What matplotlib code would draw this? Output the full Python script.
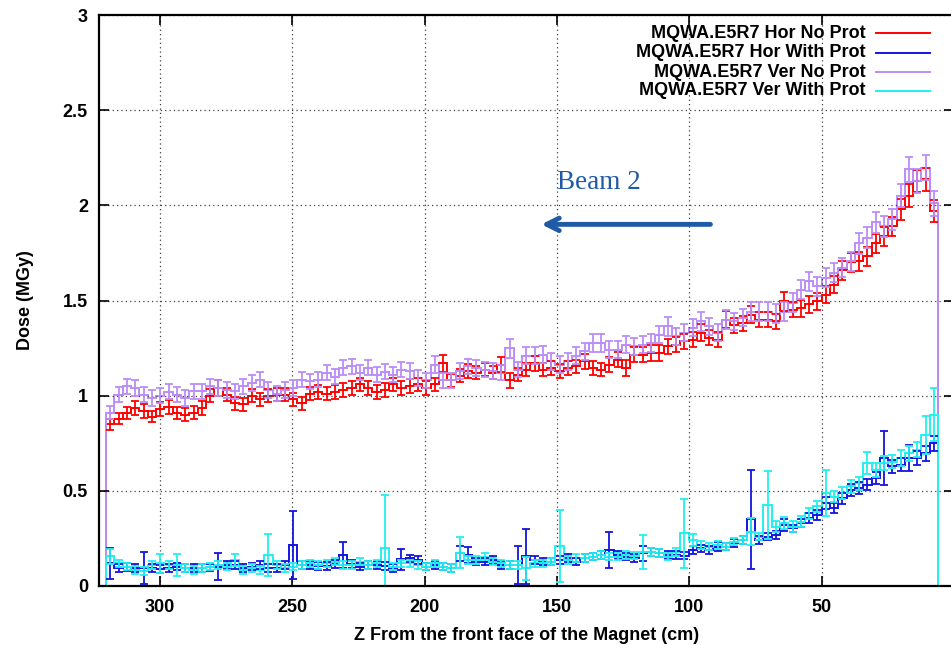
import numpy as np
import matplotlib
matplotlib.use('Agg')
import matplotlib.pyplot as plt

plt.rcParams['font.family'] = ['Liberation Sans', 'DejaVu Sans']
plt.rcParams['font.weight'] = 'bold'

# bins along Z (cm), first bin at the far end of the magnet
z_start, z_stop, n_bins = 320.4, 6.0, 100

labels = ['MQWA.E5R7 Hor No Prot', 'MQWA.E5R7 Hor With Prot',
          'MQWA.E5R7 Ver No Prot', 'MQWA.E5R7 Ver With Prot']
colors = ['#ff0000', '#1414e0', '#bb8df7', '#22f0f0']

hor_no = [0.85, 0.88, 0.91, 0.935, 0.92, 0.89, 0.93, 0.94, 0.91, 0.90,
          0.91, 0.935, 1.00, 1.04, 1.005, 0.96, 0.955, 1.00, 0.98, 1.00,
          1.005, 1.005, 0.98, 0.96, 1.01, 1.02, 1.01, 1.02, 1.03, 1.04,
          1.06, 1.04, 1.02, 1.03, 1.06, 1.04, 1.05, 1.06, 1.04, 1.06,
          1.17, 1.08, 1.105, 1.13, 1.12, 1.137, 1.12, 1.163, 1.08, 1.11,
          1.137, 1.17, 1.137, 1.145, 1.13, 1.145, 1.155, 1.18, 1.145, 1.137,
          1.163, 1.19, 1.145, 1.215, 1.215, 1.224, 1.224, 1.26, 1.268, 1.286,
          1.295, 1.33, 1.305, 1.295, 1.40, 1.37, 1.38, 1.426, 1.40, 1.40,
          1.39, 1.496, 1.452, 1.46, 1.479, 1.496, 1.53, 1.583, 1.66, 1.70,
          1.707, 1.733, 1.80, 1.838, 1.891, 1.979, 2.05, 2.128, 2.137, 1.97]
hor_no_err = [0.03, 0.03, 0.03, 0.035, 0.035, 0.03, 0.035, 0.035, 0.03, 0.035,
              0.035, 0.035, 0.035, 0.04, 0.035, 0.035, 0.035, 0.035, 0.035, 0.035,
              0.035, 0.035, 0.035, 0.035, 0.035, 0.035, 0.035, 0.035, 0.035, 0.035,
              0.035, 0.035, 0.035, 0.035, 0.035, 0.035, 0.035, 0.035, 0.035, 0.035,
              0.045, 0.035, 0.035, 0.035, 0.035, 0.035, 0.035, 0.04, 0.04, 0.035,
              0.035, 0.04, 0.035, 0.035, 0.035, 0.035, 0.035, 0.04, 0.035, 0.035,
              0.04, 0.04, 0.04, 0.04, 0.04, 0.04, 0.04, 0.04, 0.04, 0.04,
              0.04, 0.045, 0.04, 0.04, 0.045, 0.04, 0.04, 0.045, 0.04, 0.04,
              0.04, 0.05, 0.04, 0.045, 0.045, 0.045, 0.045, 0.045, 0.05, 0.05,
              0.05, 0.05, 0.05, 0.05, 0.05, 0.055, 0.06, 0.06, 0.06, 0.06]

hor_with = [0.119, 0.093, 0.10, 0.093, 0.093, 0.093, 0.088, 0.093, 0.102, 0.093,
            0.093, 0.093, 0.098, 0.102, 0.11, 0.11, 0.093, 0.102, 0.11, 0.093,
            0.093, 0.11, 0.216, 0.11, 0.11, 0.105, 0.105, 0.115, 0.163, 0.115,
            0.102, 0.11, 0.11, 0.105, 0.093, 0.14, 0.145, 0.137, 0.102, 0.11,
            0.102, 0.093, 0.172, 0.163, 0.128, 0.128, 0.137, 0.11, 0.11, 0.11,
            0.155, 0.137, 0.128, 0.128, 0.137, 0.146, 0.128, 0.146, 0.154, 0.163,
            0.189, 0.163, 0.154, 0.146, 0.172, 0.18, 0.172, 0.163, 0.163, 0.16,
            0.189, 0.198, 0.19, 0.207, 0.207, 0.225, 0.242, 0.35, 0.242, 0.26,
            0.268, 0.32, 0.303, 0.33, 0.356, 0.373, 0.435, 0.409, 0.46, 0.505,
            0.514, 0.532, 0.567, 0.672, 0.628, 0.637, 0.672, 0.672, 0.698, 0.75]
hor_with_err = [0.08, 0.02, 0.02, 0.02, 0.085, 0.02, 0.02, 0.02, 0.02, 0.02,
                0.02, 0.02, 0.02, 0.07, 0.02, 0.02, 0.02, 0.02, 0.02, 0.02,
                0.02, 0.02, 0.18, 0.02, 0.02, 0.02, 0.02, 0.02, 0.07, 0.02,
                0.02, 0.02, 0.02, 0.02, 0.02, 0.055, 0.02, 0.02, 0.02, 0.02,
                0.02, 0.02, 0.04, 0.04, 0.02, 0.02, 0.02, 0.02, 0.02, 0.1,
                0.145, 0.02, 0.02, 0.02, 0.02, 0.02, 0.02, 0.02, 0.02, 0.02,
                0.095, 0.02, 0.02, 0.02, 0.04, 0.02, 0.02, 0.02, 0.02, 0.02,
                0.02, 0.02, 0.02, 0.025, 0.02, 0.02, 0.02, 0.26, 0.02, 0.02,
                0.02, 0.03, 0.02, 0.02, 0.025, 0.025, 0.03, 0.025, 0.03, 0.03,
                0.03, 0.03, 0.03, 0.14, 0.035, 0.035, 0.07, 0.035, 0.04, 0.04]

ver_no = [0.91, 1.005, 1.05, 1.04, 1.005, 0.988, 1.00, 1.02, 1.005, 0.988,
          1.023, 1.023, 1.05, 1.04, 1.03, 1.023, 1.05, 1.067, 1.084, 1.03,
          1.01, 1.03, 1.04, 1.084, 1.075, 1.084, 1.12, 1.10, 1.146, 1.154,
          1.12, 1.146, 1.11, 1.125, 1.11, 1.137, 1.13, 1.093, 1.08, 1.163,
          1.08, 1.08, 1.13, 1.155, 1.145, 1.137, 1.13, 1.12, 1.25, 1.137,
          1.21, 1.21, 1.215, 1.18, 1.163, 1.18, 1.21, 1.233, 1.277, 1.277,
          1.242, 1.242, 1.268, 1.26, 1.268, 1.277, 1.32, 1.365, 1.312, 1.33,
          1.356, 1.391, 1.365, 1.33, 1.40, 1.39, 1.41, 1.44, 1.44, 1.44,
          1.43, 1.44, 1.487, 1.557, 1.60, 1.575, 1.62, 1.645, 1.672, 1.707,
          1.80, 1.83, 1.91, 1.89, 1.926, 2.05, 2.19, 2.128, 2.198, 2.01]
ver_no_err = [0.035, 0.04, 0.04, 0.04, 0.04, 0.04, 0.04, 0.04, 0.04, 0.04,
              0.04, 0.04, 0.04, 0.04, 0.04, 0.04, 0.04, 0.04, 0.04, 0.04,
              0.04, 0.04, 0.04, 0.04, 0.04, 0.04, 0.04, 0.04, 0.04, 0.04,
              0.04, 0.04, 0.04, 0.04, 0.04, 0.04, 0.04, 0.04, 0.04, 0.045,
              0.04, 0.04, 0.04, 0.04, 0.04, 0.04, 0.04, 0.04, 0.05, 0.04,
              0.045, 0.045, 0.045, 0.045, 0.045, 0.045, 0.045, 0.045, 0.045, 0.045,
              0.045, 0.045, 0.045, 0.045, 0.045, 0.045, 0.045, 0.05, 0.045, 0.045,
              0.045, 0.05, 0.045, 0.045, 0.05, 0.045, 0.045, 0.05, 0.05, 0.05,
              0.05, 0.05, 0.05, 0.05, 0.05, 0.05, 0.05, 0.05, 0.05, 0.05,
              0.055, 0.055, 0.055, 0.055, 0.055, 0.06, 0.065, 0.065, 0.065, 0.065]

ver_with = [0.157, 0.119, 0.102, 0.084, 0.08, 0.11, 0.119, 0.11, 0.11, 0.093,
            0.084, 0.093, 0.102, 0.11, 0.102, 0.137, 0.084, 0.093, 0.084, 0.163,
            0.11, 0.093, 0.102, 0.11, 0.119, 0.11, 0.119, 0.128, 0.11, 0.11,
            0.128, 0.11, 0.119, 0.198, 0.102, 0.119, 0.119, 0.11, 0.102, 0.119,
            0.102, 0.093, 0.175, 0.137, 0.137, 0.154, 0.128, 0.119, 0.11, 0.11,
            0.093, 0.119, 0.119, 0.128, 0.21, 0.137, 0.146, 0.146, 0.154, 0.163,
            0.154, 0.154, 0.163, 0.16, 0.18, 0.18, 0.172, 0.154, 0.18, 0.277,
            0.242, 0.216, 0.207, 0.216, 0.207, 0.233, 0.242, 0.286, 0.26, 0.426,
            0.312, 0.33, 0.312, 0.338, 0.382, 0.418, 0.488, 0.47, 0.488, 0.523,
            0.54, 0.646, 0.61, 0.646, 0.654, 0.672, 0.698, 0.716, 0.795, 0.90]
ver_with_err = [0.04, 0.02, 0.02, 0.02, 0.02, 0.02, 0.05, 0.02, 0.06, 0.02,
                0.02, 0.02, 0.02, 0.02, 0.02, 0.03, 0.02, 0.02, 0.02, 0.11,
                0.02, 0.02, 0.02, 0.02, 0.02, 0.02, 0.02, 0.02, 0.02, 0.02,
                0.02, 0.02, 0.02, 0.28, 0.02, 0.02, 0.02, 0.02, 0.02, 0.02,
                0.02, 0.02, 0.08, 0.02, 0.02, 0.02, 0.02, 0.02, 0.02, 0.02,
                0.06, 0.02, 0.02, 0.02, 0.19, 0.02, 0.02, 0.02, 0.02, 0.02,
                0.02, 0.02, 0.02, 0.02, 0.09, 0.02, 0.02, 0.02, 0.02, 0.18,
                0.03, 0.02, 0.02, 0.02, 0.02, 0.02, 0.02, 0.07, 0.02, 0.18,
                0.03, 0.03, 0.03, 0.03, 0.03, 0.03, 0.12, 0.03, 0.03, 0.035,
                0.035, 0.06, 0.035, 0.035, 0.035, 0.04, 0.04, 0.04, 0.1, 0.14]

series = [(hor_no, hor_no_err), (hor_with, hor_with_err),
          (ver_no, ver_no_err), (ver_with, ver_with_err)]

edges = np.linspace(z_stop, z_start, n_bins + 1)
centers = 0.5 * (edges[:-1] + edges[1:])

fig = plt.figure(figsize=(9.51, 6.45), dpi=100)
ax = fig.add_axes([99 / 951, 59 / 645, 855 / 951, 571 / 645])

for (vals, errs), col in zip(series, colors):
    v = np.array(vals)[::-1]
    e = np.array(errs)[::-1]
    ax.stairs(v, edges, baseline=0, color=col, lw=1.4)
    ax.errorbar(centers, v, yerr=e, fmt='none', ecolor=col,
                elinewidth=1.3, capsize=2.6, capthick=1.3)

ax.set_xlim(323.1, 0)
ax.set_ylim(0, 3)
ax.set_xticks([300, 250, 200, 150, 100, 50])
ax.set_yticks([0, 0.5, 1, 1.5, 2, 2.5, 3])
ax.set_yticklabels(['0', '0.5', '1', '1.5', '2', '2.5', '3'])
ax.grid(True, color='0.25', linestyle=(0, (1, 2.5)), lw=0.9)
ax.tick_params(direction='in', length=7, width=1.2, labelsize=13,
               top=True, right=True)
ax.tick_params(axis='x', pad=9)
ax.tick_params(axis='y', pad=8)
for s in ax.spines.values():
    s.set_linewidth(1.6)

ax.set_xlabel('Z From the front face of the Magnet (cm)', fontsize=13,
              fontweight='bold')
ax.xaxis.set_label_coords(0.5, -0.072)
ax.set_ylabel('Dose (MGy)', fontsize=13, fontweight='bold')
ax.yaxis.set_label_coords(-0.076, 0.5)

# gnuplot-like key: right aligned text, sample line on the right
key_y = [0.968, 0.934, 0.900, 0.867]
for lab, col, y in zip(labels, colors, key_y):
    ax.text(0.897, y, lab, transform=ax.transAxes, ha='right', va='center',
            fontsize=13, fontweight='bold')
    ax.plot([0.909, 0.972], [y, y], transform=ax.transAxes, color=col, lw=1.4)

ax.annotate('', xy=(157, 1.90), xytext=(91, 1.90),
            arrowprops=dict(arrowstyle='->,head_length=0.9,head_width=0.45',
                            color='#1f5aa6', lw=3.5))
ax.text(150, 2.12, 'Beam 2', fontsize=19.5, color='#1f5aa6', ha='left',
        va='center', family=['Liberation Serif', 'DejaVu Serif'],
        fontweight='normal')

fig.savefig('out.png', dpi=100)
